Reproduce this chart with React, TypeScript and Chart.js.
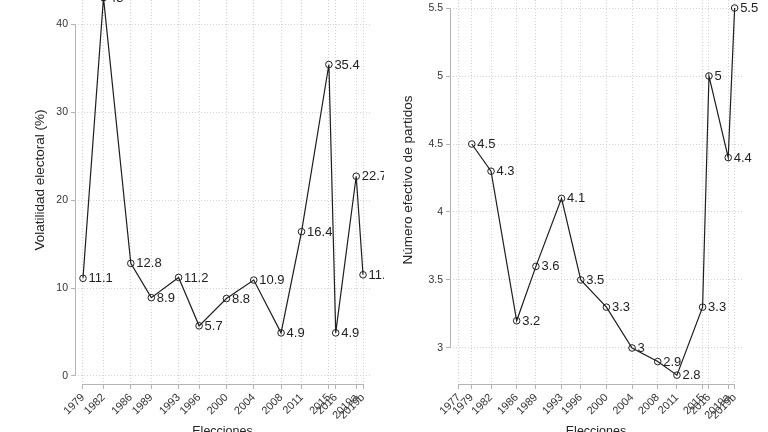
import React, { useEffect, useRef } from "react";
import Chart from "chart.js/auto";
import type { ChartConfiguration, Plugin } from "chart.js";

// Elections (2019a / 2019b are the April and November 2019 elections)
const electionLabels = ["1977", "1979", "1982", "1986", "1989", "1993", "1996", "2000", "2004", "2008", "2011", "2015", "2016", "2019a", "2019b"];
const electionYears = [1977, 1979, 1982, 1986, 1989, 1993, 1996, 2000, 2004, 2008, 2011, 2015, 2016, 2019, 2020];

// Volatilidad electoral (%), no value for the first election
const volatility: (number | null)[] = [null, 11.1, 43.0, 12.8, 8.9, 11.2, 5.7, 8.8, 10.9, 4.9, 16.4, 35.4, 4.9, 22.7, 11.5];
// Número efectivo de partidos
const effectiveParties: (number | null)[] = [null, 4.5, 4.3, 3.2, 3.6, 4.1, 3.5, 3.3, 3, 2.9, 2.8, 3.3, 5, 4.4, 5.5];

const volatilityTicks = [0, 10, 20, 30, 40];
const partiesTicks = [3, 3.5, 4, 4.5, 5, 5.5];

const FONT = "'Liberation Sans', Arial, Helvetica, sans-serif";
const AXIS_COLOR = "#b4b4b4";
const GRID_COLOR = "#d2d2d2";
const TEXT_COLOR = "#333333";
const LINE_COLOR = "#1e1e1e";

const CANVAS_W = 384;
const CANVAS_H = 448;
const PLOT_BOTTOM = 384;

type Panel = {
    values: (number | null)[];
    xTicks: number[];
    yTicks: number[];
    xMin: number;
    xMax: number;
    yMin: number;
    yMax: number;
    yTitle: string;
    yAxisWidth: number;
    rightPad: number;
    yTitleX: number;
};

const panels: Panel[] = [
    {
        values: volatility,
        xTicks: electionYears.filter((_, i) => volatility[i] !== null),
        yTicks: volatilityTicks,
        xMin: 1977.83,
        xMax: 2021.02,
        yMin: -0.91,
        yMax: 42.73,
        yTitle: "Volatilidad electoral (%)",
        yAxisWidth: 75,
        rightPad: 14,
        yTitleX: 40,
    },
    {
        values: effectiveParties,
        xTicks: electionYears,
        yTicks: partiesTicks,
        xMin: 1975.6,
        xMax: 2021.15,
        yMin: 2.735,
        yMax: 5.559,
        yTitle: "Número efectivo de partidos",
        yAxisWidth: 66,
        rightPad: 26,
        yTitleX: 24,
    },
];

// axis lines only over the tick range, like the original figure
const axisLinePlugin: Plugin = {
    id: "rangeAxes",
    afterDraw(chart) {
        const { ctx, chartArea } = chart;
        const x = chart.scales.x;
        const y = chart.scales.y;
        if (!x.ticks.length || !y.ticks.length) return;

        ctx.save();
        ctx.strokeStyle = AXIS_COLOR;
        ctx.lineWidth = 1;
        ctx.beginPath();
        const left = Math.round(chartArea.left) + 0.5;
        ctx.moveTo(left, y.getPixelForValue(y.ticks[y.ticks.length - 1].value));
        ctx.lineTo(left, y.getPixelForValue(y.ticks[0].value));
        const bottom = Math.round(chartArea.bottom) + 0.5;
        ctx.moveTo(x.getPixelForValue(x.ticks[0].value), bottom);
        ctx.lineTo(x.getPixelForValue(x.ticks[x.ticks.length - 1].value), bottom);
        ctx.stroke();
        ctx.restore();
    },
};

const pointLabelPlugin: Plugin = {
    id: "pointLabels",
    afterDatasetsDraw(chart) {
        const { ctx } = chart;
        const meta = chart.getDatasetMeta(0);
        const data = chart.data.datasets[0].data as { x: number; y: number }[];

        ctx.save();
        ctx.font = `13px ${FONT}`;
        ctx.fillStyle = "#222222";
        ctx.textAlign = "left";
        ctx.textBaseline = "middle";
        meta.data.forEach((el: any, i) => {
            const point = data[i];
            if (!point) return;
            ctx.fillText(String(point.y), el.x + 5.5, el.y + 0.5);
        });
        ctx.restore();
    },
};

// y title sits a little above the middle of the plot, so it is drawn by hand
const yTitlePlugin = (text: string, x: number): Plugin => ({
    id: "yTitle",
    afterDraw(chart) {
        const { ctx } = chart;
        ctx.save();
        ctx.translate(x, 180);
        ctx.rotate(-Math.PI / 2);
        ctx.font = `13.5px ${FONT}`;
        ctx.fillStyle = "#222222";
        ctx.textAlign = "center";
        ctx.textBaseline = "middle";
        ctx.fillText(text, 0, 0);
        ctx.restore();
    },
});

const labelForYear = (value: number) => {
    const index = electionYears.indexOf(Number(value));
    return index >= 0 ? electionLabels[index] : "";
};

const PanelChart: React.FC<{ panel: Panel }> = ({ panel }) => {
    const canvasRef = useRef<HTMLCanvasElement | null>(null);

    useEffect(() => {
        const canvas = canvasRef.current;
        if (!canvas) return;

        const points = electionYears
            .map((year, i) => ({ x: year, y: panel.values[i] }))
            .filter((p) => p.y !== null) as { x: number; y: number }[];

        const config: ChartConfiguration = {
            type: "line",
            data: {
                datasets: [
                    {
                        data: points,
                        borderColor: LINE_COLOR,
                        borderWidth: 1.2,
                        tension: 0,
                        pointRadius: 3.3,
                        pointBorderWidth: 1,
                        pointBorderColor: LINE_COLOR,
                        pointBackgroundColor: "rgba(0,0,0,0)",
                    },
                ],
            },
            options: {
                responsive: false,
                animation: false,
                events: [],
                layout: {
                    autoPadding: false,
                    padding: { left: 0, top: 0, right: panel.rightPad, bottom: 0 },
                },
                plugins: {
                    legend: { display: false },
                    tooltip: { enabled: false },
                },
                scales: {
                    x: {
                        type: "linear",
                        bounds: "data",
                        min: panel.xMin,
                        max: panel.xMax,
                        afterBuildTicks: (scale: any) => {
                            scale.ticks = panel.xTicks.map((value) => ({ value }));
                        },
                        afterFit: (scale: any) => {
                            scale.height = CANVAS_H - PLOT_BOTTOM;
                            scale.paddingLeft = 0;
                            scale.paddingRight = 0;
                        },
                        ticks: {
                            autoSkip: false,
                            minRotation: 45,
                            maxRotation: 45,
                            padding: 2,
                            color: TEXT_COLOR,
                            font: { family: FONT, size: 11 },
                            callback: (value) => labelForYear(Number(value)),
                        },
                        grid: {
                            color: GRID_COLOR,
                            lineWidth: 1,
                            tickLength: 5,
                            tickColor: AXIS_COLOR,
                            tickBorderDash: [],
                        },
                        border: { display: false, dash: [1, 2] },
                        title: {
                            display: true,
                            text: "Elecciones",
                            color: "#222222",
                            font: { family: FONT, size: 12.5 },
                            padding: { top: 0, bottom: 8.5 },
                        },
                    },
                    y: {
                        type: "linear",
                        bounds: "data",
                        min: panel.yMin,
                        max: panel.yMax,
                        afterBuildTicks: (scale: any) => {
                            scale.ticks = panel.yTicks.map((value) => ({ value }));
                        },
                        afterFit: (scale: any) => {
                            scale.width = panel.yAxisWidth;
                            scale.paddingTop = 0;
                            scale.paddingBottom = 0;
                        },
                        ticks: {
                            padding: 3,
                            color: TEXT_COLOR,
                            font: { family: FONT, size: 10.5 },
                            callback: (value) => String(value),
                        },
                        grid: {
                            color: GRID_COLOR,
                            lineWidth: 1,
                            tickLength: 4,
                            tickColor: AXIS_COLOR,
                            tickBorderDash: [],
                        },
                        border: { display: false, dash: [1, 2] },
                    },
                },
            },
            plugins: [axisLinePlugin, pointLabelPlugin, yTitlePlugin(panel.yTitle, panel.yTitleX)],
        };

        const chart = new Chart(canvas, config);
        return () => {
            chart.destroy();
        };
    }, [panel]);

    return (
        <canvas
            ref={canvasRef}
            width={CANVAS_W}
            height={CANVAS_H}
            style={{ display: "block", width: CANVAS_W, height: CANVAS_H }}
        />
    );
};

export default function App() {
    return (
        <div
            style={{
                position: "fixed",
                left: 0,
                top: 0,
                width: 768,
                height: 432,
                overflow: "hidden",
                background: "#ffffff",
            }}
        >
            {panels.map((panel, i) => (
                <div key={i} style={{ position: "absolute", left: i * CANVAS_W, top: 0, width: CANVAS_W, height: CANVAS_H }}>
                    <PanelChart panel={panel} />
                </div>
            ))}
        </div>
    );
}
